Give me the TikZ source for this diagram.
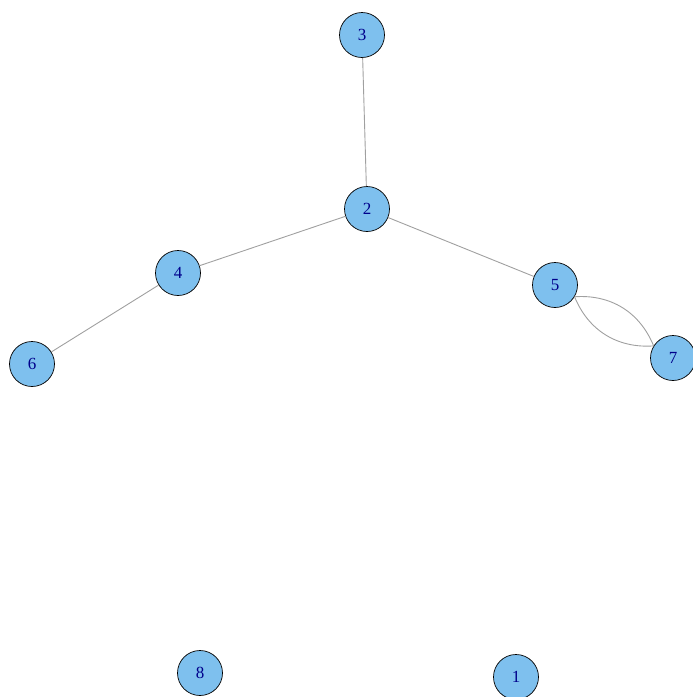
\documentclass[tikz,border=0pt]{standalone}
\usepackage{fontspec}
\setmainfont{Liberation Serif}
\definecolor{vfill}{HTML}{7EC0EE}
\definecolor{vlabel}{HTML}{00008B}
\definecolor{edgegray}{HTML}{A0A0A0}
\begin{document}
\begin{tikzpicture}[x=1pt,y=-1pt,
  vertex/.style={circle,draw=black,line width=0.7pt,fill=vfill,minimum size=45pt,inner sep=0pt,
    text=vlabel,font=\fontsize{17}{17}\selectfont},
  edge/.style={draw=edgegray,line width=0.9pt}]
\useasboundingbox (0,0) rectangle (693,697);
\node[vertex] (n3) at (362,35) {3};
\node[vertex] (n2) at (367,209) {2};
\node[vertex] (n4) at (178,273) {4};
\node[vertex] (n6) at (32,364) {6};
\node[vertex] (n5) at (555,285) {5};
\node[vertex] (n7) at (673,358) {7};
\node[vertex] (n8) at (200,673) {8};
\node[vertex] (n1) at (516,677) {1};
% edges
\draw[edge] (n3) -- (n2);
\draw[edge] (n2) -- (n4);
\draw[edge] (n4) -- (n6);
\draw[edge] (n2) -- (n5);
% two parallel edges between 5 and 7, leaving from one boundary point
\draw[edge] (n5.-31.7) to[bend left=36] (n7.148.3);
\draw[edge] (n5.-31.7) to[bend right=36] (n7.148.3);
\end{tikzpicture}
\end{document}
